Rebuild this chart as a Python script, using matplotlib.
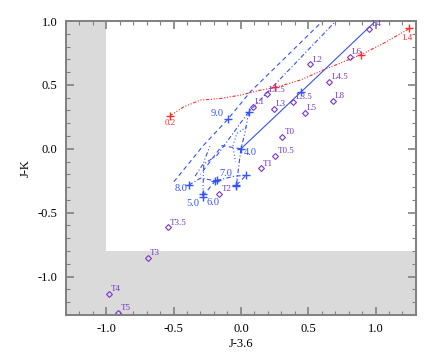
import matplotlib
matplotlib.use("Agg")
import matplotlib.pyplot as plt
from matplotlib.ticker import MultipleLocator

# ---- data ----
spt_labels = ["L4", "L6", "L2", "L4.5", "L8", "L5", "L3.5", "L3", "L1.5", "L1",
              "T0", "T0.5", "T1", "T2", "T3.5", "T3", "T4", "T5"]
spt_x = [0.954, 0.811, 0.515, 0.658, 0.683, 0.475, 0.389, 0.246, 0.191, 0.087,
         0.307, 0.255, 0.150, -0.160, -0.540, -0.690, -0.980, -0.910]
spt_y = [0.937, 0.720, 0.660, 0.524, 0.373, 0.282, 0.368, 0.313, 0.426, 0.329,
         0.094, -0.055, -0.153, -0.352, -0.615, -0.853, -1.137, -1.286]

red_x = [-0.527, -0.424, -0.300, -0.152, -0.004, 0.144, 0.256, 0.441, 0.639, 0.885, 1.058, 1.231, 1.250]
red_y = [0.258, 0.329, 0.381, 0.394, 0.420, 0.459, 0.480, 0.538, 0.629, 0.733, 0.825, 0.929, 0.942]
red_mark_x = [-0.527, 0.256, 0.893, 1.250]
red_mark_y = [0.258, 0.480, 0.733, 0.942]
red_labels = ["0.2", "1.4"]
red_label_x = [-0.527, 1.235]
red_label_y = [0.200, 0.870]

# blue model tracks
solid_x = [0.0, 0.443, 1.05]
solid_y = [0.0, 0.441, 1.05]
dash1_x = [-0.498, -0.276, -0.098, 0.070, 0.601, 0.630]
dash1_y = [-0.258, 0.029, 0.230, 0.446, 0.994, 1.02]
dashdot1_x = [-0.340, -0.287, -0.176, 0.058, 0.700, 0.730]
dashdot1_y = [-0.214, -0.128, -0.049, 0.290, 0.994, 1.02]
dashdot2_x = [0.0, -0.033]
dashdot2_y = [0.0, -0.284]
dotted_x = [0.058, 0.030, 0.0]
dotted_y = [0.290, 0.120, 0.0]
loop_x = [0.040, -0.030, -0.060, -0.040]
loop_y = [0.170, 0.120, 0.020, -0.100]
dash2_x = [0.0, -0.140, -0.300]
dash2_y = [0.0, 0.025, -0.200]
bottom_x = [-0.387, -0.300, -0.189, -0.050, 0.040]
bottom_y = [-0.284, -0.230, -0.250, -0.215, -0.206]
dash3_x = [-0.283, -0.189]
dash3_y = [-0.370, -0.250]
dash4_x = [-0.033, 0.040]
dash4_y = [-0.284, -0.206]
vert5_x = [-0.283, -0.275, -0.230]
vert5_y = [-0.370, -0.100, 0.020]

blue_mark_x = [0.0, -0.098, 0.058, 0.443, -0.387, -0.283, -0.283, -0.189, -0.180, -0.033, -0.040, 0.040]
blue_mark_y = [0.0, 0.230, 0.290, 0.441, -0.284, -0.350, -0.375, -0.250, -0.245, -0.284, -0.290, -0.206]
blue_labels = ["9.0", "4.0", "7.0", "8.0", "5.0", "6.0"]
blue_label_x = [-0.176, 0.070, -0.115, -0.448, -0.354, -0.204]
blue_label_y = [0.277, -0.028, -0.192, -0.310, -0.427, -0.417]

xticks = [-1.0, -0.5, 0.0, 0.5, 1.0]
yticks = [-1.0, -0.5, 0.0, 0.5, 1.0]

BLUE = "#3352ff"
RED = "#ff2a2a"
PURPLE = "#7a35c8"
SERIF = ["Liberation Serif", "DejaVu Serif"]

fig = plt.figure(figsize=(4.36, 3.57), dpi=100)
ax = fig.add_axes([0.151, 0.118, 0.803, 0.823])
ax.set_xlim(-1.3, 1.3)
ax.set_ylim(-1.3, 1.0)

ax.axvspan(-1.3, -1.0, color="#dadada", lw=0, zorder=0)
ax.axhspan(-1.3, -0.8, color="#dadada", lw=0, zorder=0)

lw = 0.8
ax.plot(solid_x, solid_y, color=BLUE, lw=lw, ls="-")
ax.plot(dash1_x, dash1_y, color=BLUE, lw=lw, ls=(0, (4, 3)))
ax.plot(dashdot1_x, dashdot1_y, color=BLUE, lw=lw, ls=(0, (4, 2, 1, 2)))
ax.plot(dashdot2_x, dashdot2_y, color=BLUE, lw=lw, ls=(0, (4, 2, 1, 2)))
ax.plot(dotted_x, dotted_y, color=BLUE, lw=lw, ls=(0, (4, 2, 1, 2, 1, 2)))
ax.plot(loop_x, loop_y, color=BLUE, lw=lw, ls=(0, (1, 2)))
ax.plot(dash2_x, dash2_y, color=BLUE, lw=lw, ls=(0, (4, 3)))
ax.plot(bottom_x, bottom_y, color=BLUE, lw=lw, ls=(0, (4, 2, 1, 2)))
ax.plot(dash3_x, dash3_y, color=BLUE, lw=lw, ls=(0, (4, 3)))
ax.plot(dash4_x, dash4_y, color=BLUE, lw=lw, ls=(0, (4, 3)))
ax.plot(vert5_x, vert5_y, color=BLUE, lw=lw, ls=(0, (4, 2, 1, 2, 1, 2)))
ax.plot(blue_mark_x, blue_mark_y, ls="none", marker="+", ms=5.5, mew=1.0, color=BLUE)
for t, x, y in zip(blue_labels, blue_label_x, blue_label_y):
    ax.text(x, y, t, color=BLUE, fontsize=7.5, family=SERIF, ha="center", va="center")

ax.plot(red_x, red_y, color=RED, lw=lw, ls=(0, (3, 1.5, 1, 1.5, 1, 1.5, 1, 1.5)))
ax.plot(red_mark_x, red_mark_y, ls="none", marker="+", ms=5.5, mew=1.0, color=RED)
for t, x, y in zip(red_labels, red_label_x, red_label_y):
    ax.text(x, y, t, color=RED, fontsize=6.5, family=SERIF, ha="center", va="center")

ax.plot(spt_x, spt_y, ls="none", marker="D", ms=3, mfc="none", mec=PURPLE, mew=0.8)
for t, x, y in zip(spt_labels, spt_x, spt_y):
    ax.annotate(t, (x, y), xytext=(1.5, 0.5), textcoords="offset points",
                color=PURPLE, fontsize=6.5, family=SERIF, ha="left", va="bottom")

ax.set_xticks(xticks)
ax.set_yticks(yticks)
ax.set_xticklabels([f"{v:.1f}" for v in xticks])
ax.set_yticklabels([f"{v:.1f}" for v in yticks])
ax.xaxis.set_minor_locator(MultipleLocator(0.1))
ax.yaxis.set_minor_locator(MultipleLocator(0.1))
ax.tick_params(which="both", direction="in", top=True, right=True, color="#808080")
ax.tick_params(which="major", length=6, width=1.2, labelsize=9, pad=6)
ax.tick_params(which="minor", length=3, width=0.8)
for lab in ax.get_xticklabels() + ax.get_yticklabels():
    lab.set_family(SERIF)
for s in ax.spines.values():
    s.set_color("#808080")
    s.set_linewidth(1.4)

ax.set_xlabel("J-3.6", family=SERIF, fontsize=9, labelpad=2)
ax.set_ylabel("J-K", family=SERIF, fontsize=9, labelpad=4)

fig.savefig("out.png", dpi=100)
